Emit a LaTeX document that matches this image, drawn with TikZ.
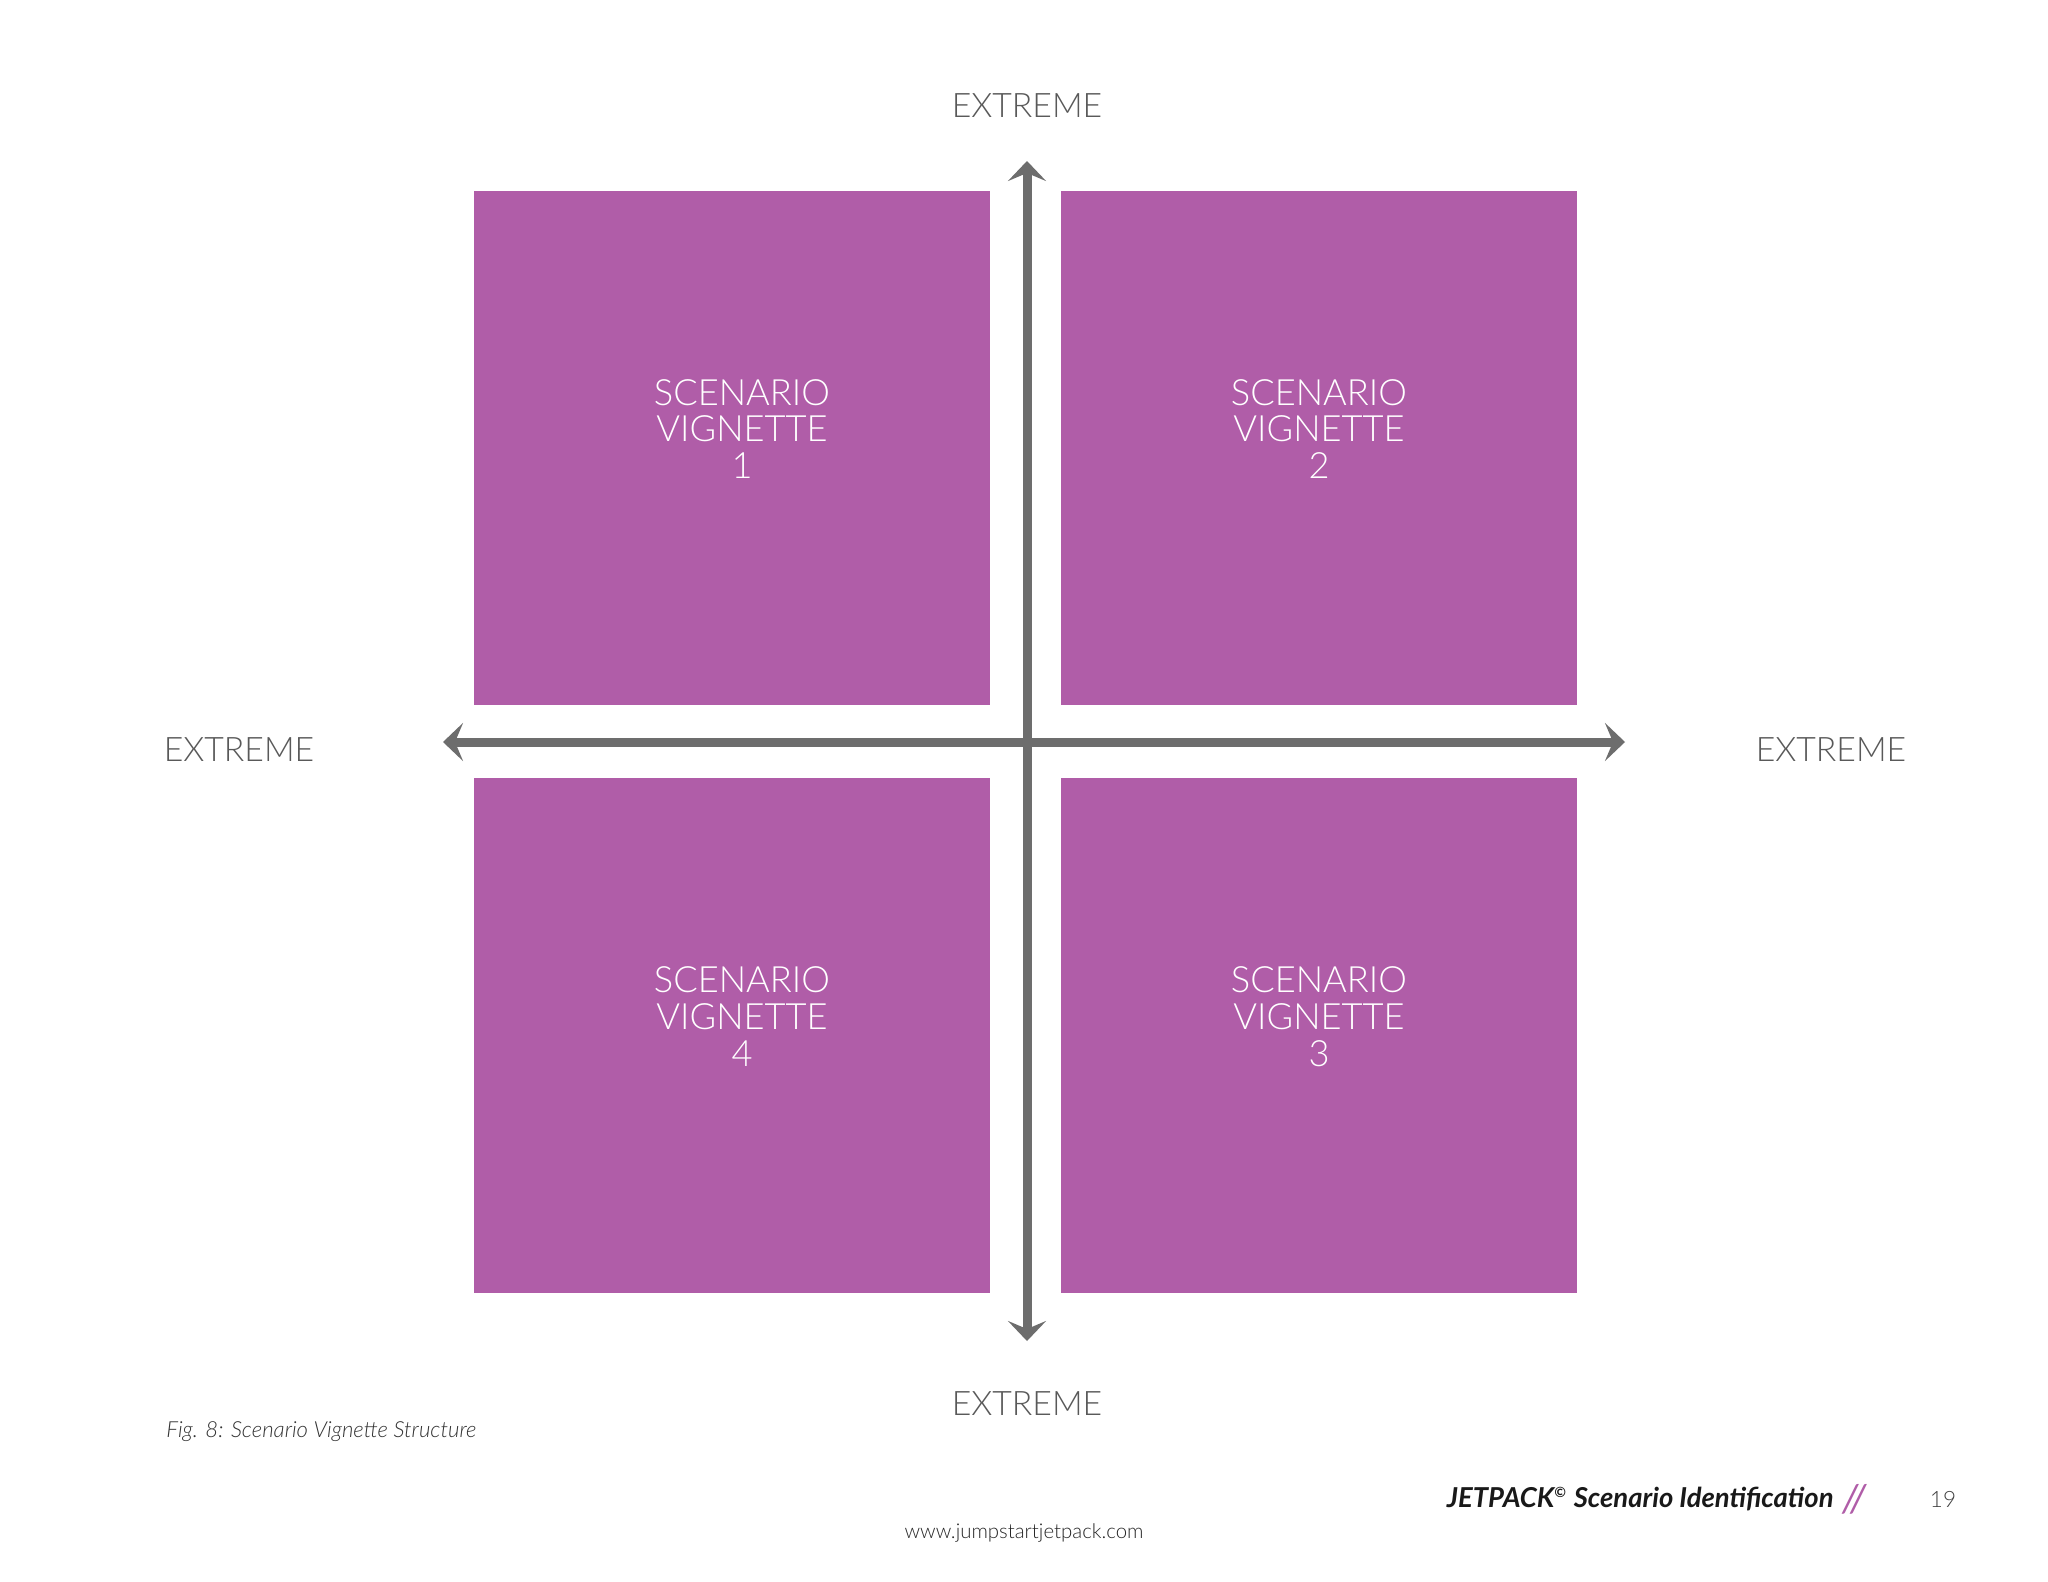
\documentclass[tikz,border=0pt]{standalone}
\usepackage{fontspec}
\setmainfont{Lato}
\newfontfamily\thinfont{Lato Light}
\usepackage{tikz}
\usetikzlibrary{positioning, arrows.meta}
\definecolor{vpurple}{HTML}{B05DA8}
\definecolor{axisgray}{HTML}{6D6D6D}
\tikzset{x=0.01cm, y=-0.01cm,
	vbox/.style={rectangle, fill=vpurple, minimum width=5.16cm, minimum height=5.14cm, inner sep=0pt},
	vtext/.style={align=center, text=white, font=\thinfont\fontsize{10.3}{10.5}\selectfont},
	extreme/.style={text=black!65, font=\thinfont\fontsize{9.6}{10}\selectfont},
	axis/.style={draw=axisgray, line width=0.09cm, {Stealth[length=0.2cm, width=0.38cm, inset=0.08cm]}-{Stealth[length=0.2cm, width=0.38cm, inset=0.08cm]}}}

\begin{document}
\begin{tikzpicture}
	\useasboundingbox[fill=white] (0,0) rectangle (2048,1582);
	% quadrants
	\node[vbox] (v1) at (732,448) {};
	\node[vbox] (v2) at (1319,448) {};
	\node[vbox] (v4) at (732,1035.5) {};
	\node[vbox] (v3) at (1319,1035.5) {};
	\node[vtext] at ([xshift=0.1cm, yshift=0.19cm]v1.center) {SCENARIO\\VIGNETTE\\1};
	\node[vtext] at ([yshift=0.19cm]v2.center) {SCENARIO\\VIGNETTE\\2};
	\node[vtext] at ([xshift=0.1cm, yshift=0.19cm]v4.center) {SCENARIO\\VIGNETTE\\4};
	\node[vtext] at ([yshift=0.19cm]v3.center) {SCENARIO\\VIGNETTE\\3};
	% axes
	\coordinate (top) at (1027,161);
	\coordinate (bottom) at (1027,1341);
	\coordinate (left) at (443,742);
	\coordinate (right) at (1625,742);
	\draw[axis] (bottom) -- (top);
	\draw[axis] (left) -- (right);
	\node[extreme] (ex top) at (1027,106) {EXTREME};
	\node[extreme] (ex bottom) at (1027,1404) {EXTREME};
	\node[extreme] (ex left) at (239,750) {EXTREME};
	\node[extreme] (ex right) at (1831,750) {EXTREME};
	% caption and footer
	\node[anchor=west, text=black!80, font=\thinfont\itshape\fontsize{6.3}{7}\selectfont] (caption) at (154,1432) {Fig. 8: Scenario Vignette Structure};
	\node[anchor=east, text=black!90, font=\bfseries\itshape\fontsize{7.8}{8}\selectfont] (brand) at (1846,1499) {JETPACK\textsuperscript{\fontsize{4}{4}\selectfont\textcopyright} Scenario Identification};
	\node[right=-0.16cm of brand, text=vpurple, font=\fontsize{11}{11}\selectfont] (slashes) {\textit{//}};
	\node[text=black!75, font=\thinfont\fontsize{6.4}{7}\selectfont] (page) at (1943,1499) {19};
	\node[text=black!85, font=\thinfont\fontsize{5.8}{7}\selectfont] (www) at (1024,1533) {www.jumpstartjetpack.com};
\end{tikzpicture}
\end{document}
